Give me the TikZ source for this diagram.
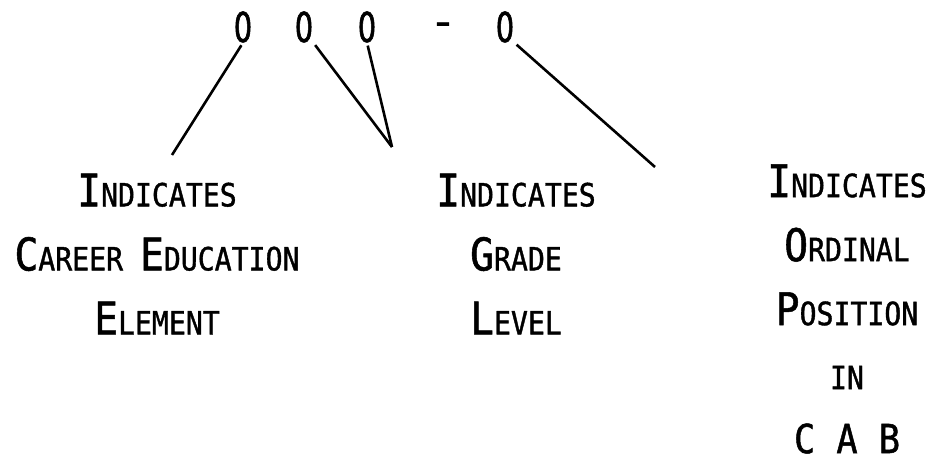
\documentclass[tikz,border=0pt]{standalone}
\usepackage{fontspec}
\setmonofont[FakeStretch=0.88, FakeBold=1.2]{DejaVu Sans Mono}
\newfontfamily\digitfont[FakeStretch=0.7, FakeBold=1.5]{DejaVu Sans}
\usetikzlibrary{positioning}

% typed small caps: big first letter, smaller rest
\newcommand{\capword}[2]{{\fontsize{45}{64}\selectfont #1}#2}

\begin{document}
\begin{tikzpicture}[x=1pt, y=-1pt,
                  digit/.style={font=\digitfont\fontsize{41}{41}\selectfont, inner sep=0pt},
                  explain/.style={font=\ttfamily\fontsize{32}{64}\selectfont, align=center, inner sep=0pt},
                  link/.style={draw, line width=2.6pt, shorten <=3pt}
            ]
            \useasboundingbox (0,0) rectangle (934,462);

            % Code digits
            \node [digit] (career) at (243,27) {0};
            \node [digit] (gradeA) at (304,27) {0};
            \node [digit] (gradeB) at (367,27) {0};
            \node [digit] (dash) at (443,29) {–};
            \node [digit] (ordinal) at (505,27) {0};

            % Ends of the pointers
            \coordinate (careerEnd) at (172,155);
            \coordinate (gradeEnd) at (392,147);
            \coordinate (ordinalEnd) at (655,167);

            % Explanations
            \node [explain] (careerText) at (157,254)
                  {\capword{I}{NDICATES}\\ \capword{C}{AREER} \capword{E}{DUCATION}\\ \capword{E}{LEMENT}};
            \node [explain] (gradeText) at (516,254)
                  {\capword{I}{NDICATES}\\ \capword{G}{RADE}\\ \capword{L}{EVEL}};
            \node [explain] (ordinalText) at (847,309)
                  {\capword{I}{NDICATES}\\ \capword{O}{RDINAL}\\ \capword{P}{OSITION}\\ IN\\ {\fontsize{40}{64}\selectfont C A B}};

            % Pointers
            \path [link] (career.south) -- (careerEnd);
            \path [link] (gradeA.south east) -- (gradeEnd);
            \path [link] (gradeB.south) -- (gradeEnd);
            \path [link] (ordinal.south east) -- (ordinalEnd);
      \end{tikzpicture}
\end{document}
